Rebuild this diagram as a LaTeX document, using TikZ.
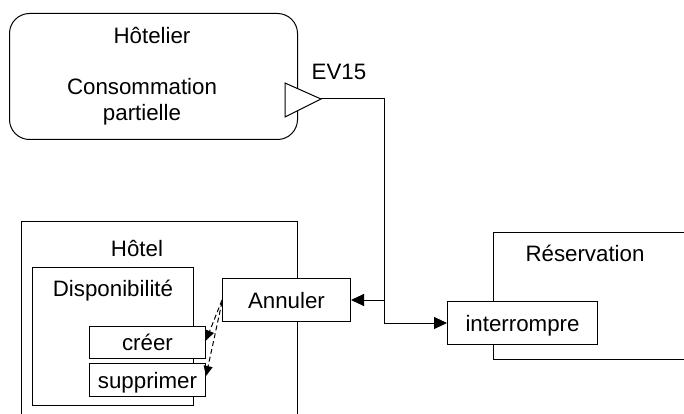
\documentclass[tikz,border=0pt]{standalone}
\usepackage{fontspec}
\setmainfont{Liberation Sans}
\usetikzlibrary{arrows.meta}
\begin{document}
\begin{tikzpicture}[x=1pt,y=-1pt,line width=1pt,
  box/.style={draw,fill=white,inner sep=0pt,anchor=north west},
  leaf/.style={box,font=\fontsize{22.3}{26}\selectfont,text height=16pt,text depth=0pt},
  txt/.style={font=\fontsize{22.3}{26}\selectfont,inner sep=0pt,anchor=base},
  tip/.style={-{Triangle[length=13pt,width=12pt]}},
  calltip/.style={dashed,dash pattern=on 5pt off 3pt,-{Triangle[length=10pt,width=9pt]}}]
\useasboundingbox (0,0) rectangle (684,414);
\clip (0,0) rectangle (684,414);
\node[box,rounded corners=20pt,minimum width=288pt,minimum height=126pt] (hotelier) at (9,13) {};
\node[txt] (acteur) at (152,44) {Hôtelier};
\node[txt,align=center] (conso) at (142,121) {Consommation\\partielle};
\draw[fill=white] (285,83) -- (321,99) coordinate (ev) -- (285,117) -- cycle;
\node[txt] (evlbl) at (339,80) {EV15};
\node[box,minimum width=276pt,minimum height=220pt] (hotel) at (21,221) {};
\node[txt] (hotellbl) at (137,256) {Hôtel};
\node[box,minimum width=161pt,minimum height=138pt] (dispo) at (32,267) {};
\node[txt] (dispolbl) at (113,296) {Disponibilité};
\node[leaf,minimum width=116pt,minimum height=32pt] (creer) at (89,326) {créer};
\node[leaf,minimum width=116pt,minimum height=33pt] (supprimer) at (89,363) {supprimer};
\node[leaf,minimum width=128pt,minimum height=43pt] (annuler) at (222,278) {Annuler};
\node[box,minimum width=220pt,minimum height=127pt] (resa) at (493,232) {};
\node[txt] (resalbl) at (585,261) {Réservation};
\node[leaf,minimum width=150pt,minimum height=43pt] (interrompre) at (447,301) {interrompre};
\coordinate (bend) at (384,99);
\coordinate (split) at (bend |- annuler.east);
\draw[tip] (ev) -- (bend) |- (interrompre.west);
\draw[tip] (split) -- (annuler.east);
\draw[calltip] (annuler.west) -- ([yshift=2pt]creer.east);
\draw[calltip] ([yshift=-2pt]annuler.west) -- ([yshift=4pt]supprimer.east);
\end{tikzpicture}
\end{document}
